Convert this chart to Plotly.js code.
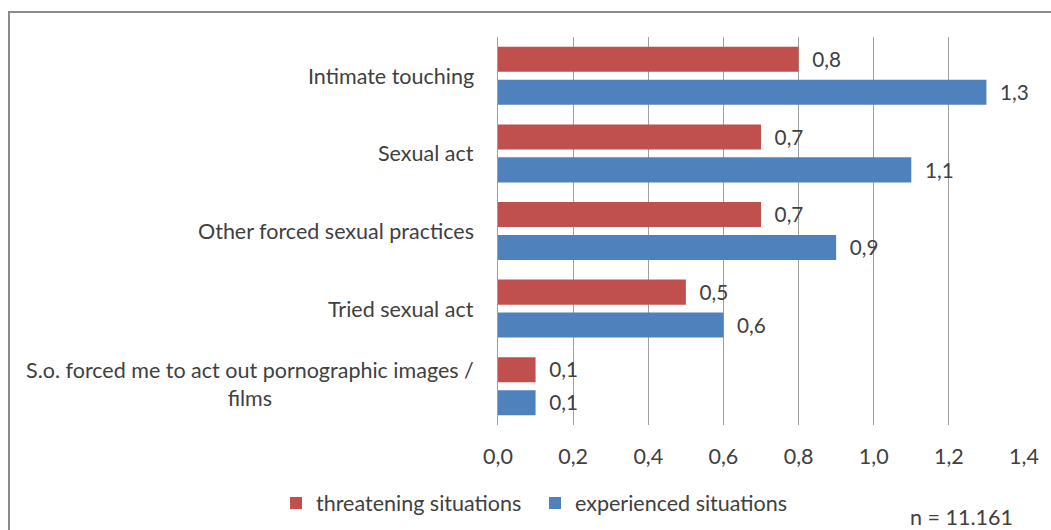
<!DOCTYPE html>
<html>
<head>
<meta charset="utf-8">
<script src="https://cdn.plot.ly/plotly-3.0.1.min.js"></script>
<style>
  html, body { margin: 0; padding: 0; background: #ffffff; }
  #wrap { position: relative; width: 1051px; height: 530px; overflow: hidden; }
  #chart { position: absolute; left: 0; top: 0; width: 1051px; height: 530px; }
  #frame { position: absolute; left: 8px; top: 11px; width: 1100px; height: 600px;
           border: 2px solid #8c8c8c; box-sizing: border-box; pointer-events: none; }
</style>
</head>
<body>
<div id="wrap">
  <div id="chart"></div>
  <div id="frame"></div>
</div>
<script>
// ---- data ----
var categories = [
  "Intimate touching",
  "Sexual act",
  "Other forced sexual practices",
  "Tried sexual act",
  "S.o. forced me to act out pornographic images /<br>films"
];
var threatening = [0.8, 0.7, 0.7, 0.5, 0.1];
var experienced = [1.3, 1.1, 0.9, 0.6, 0.1];
var seriesNames = ["threatening situations", "experienced situations"];
var xTicks = [0, 0.2, 0.4, 0.6, 0.8, 1.0, 1.2, 1.4];
var noteText = "n = 11.161";

var FONT = "Lato, 'Open Sans', sans-serif";
var TXT = "#404040";
var FS = 21.5;

function barTrace(name, vals, color) {
  return {
    type: "bar",
    orientation: "h",
    name: name,
    y: categories,
    x: vals,
    marker: { color: color, line: { width: 0 } },
    texttemplate: "\u00a0\u00a0%{x:.1f}",
    textposition: "outside",
    cliponaxis: false,
    textfont: { family: FONT, size: FS, color: TXT },
    hoverinfo: "skip"
  };
}

var data = [
  barTrace(seriesNames[0], threatening, "#C0504D"),
  barTrace(seriesNames[1], experienced, "#4F81BD")
];

var annotations = categories.map(function (c) {
  return {
    xref: "paper", yref: "y",
    x: 0, y: c,
    xshift: -22,
    yshift: c.indexOf("<br>") >= 0 ? 2 : 0,
    xanchor: "right", yanchor: "middle",
    align: "center",
    showarrow: false,
    text: c,
    font: { family: FONT, size: FS, color: TXT }
  };
});
annotations.push({
  xref: "paper", yref: "paper",
  x: 1, y: 0, xshift: -9, yshift: -92,
  xanchor: "right", yanchor: "middle",
  showarrow: false,
  text: noteText,
  font: { family: FONT, size: FS, color: TXT }
});

var layout = {
  width: 1051, height: 530,
  margin: { l: 498, r: 27, t: 37, b: 105, autoexpand: false },
  paper_bgcolor: "rgba(0,0,0,0)",
  plot_bgcolor: "rgba(0,0,0,0)",
  separators: ",.",
  barmode: "group",
  bargap: 0.15,
  bargroupgap: 0.24,
  showlegend: true,
  font: { family: FONT, size: FS, color: TXT },
  xaxis: {
    range: [0, 1.4],
    tickvals: xTicks,
    tickformat: ".1f",
    showgrid: true,
    gridcolor: "#a0a0a0",
    gridwidth: 1,
    zeroline: false,
    showline: false,
    ticks: "",
    automargin: false,
    ticklabelstandoff: 16,
    tickfont: { family: FONT, size: FS, color: TXT },
    fixedrange: true
  },
  yaxis: {
    type: "category",
    autorange: "reversed",
    showticklabels: false,
    showgrid: false,
    zeroline: false,
    showline: true,
    linecolor: "#a0a0a0",
    linewidth: 1,
    ticks: "",
    automargin: false,
    fixedrange: true
  },
  legend: {
    orientation: "h",
    x: -0.422, xanchor: "left",
    yref: "container",
    y: 0.051, yanchor: "middle",
    entrywidth: 214,
    entrywidthmode: "pixels",
    itemwidth: 30,
    font: { family: FONT, size: FS, color: TXT },
    bgcolor: "rgba(0,0,0,0)",
    traceorder: "normal"
  },
  annotations: annotations
};

Plotly.newPlot("chart", data, layout, { staticPlot: true, displayModeBar: false });
</script>
</body>
</html>
